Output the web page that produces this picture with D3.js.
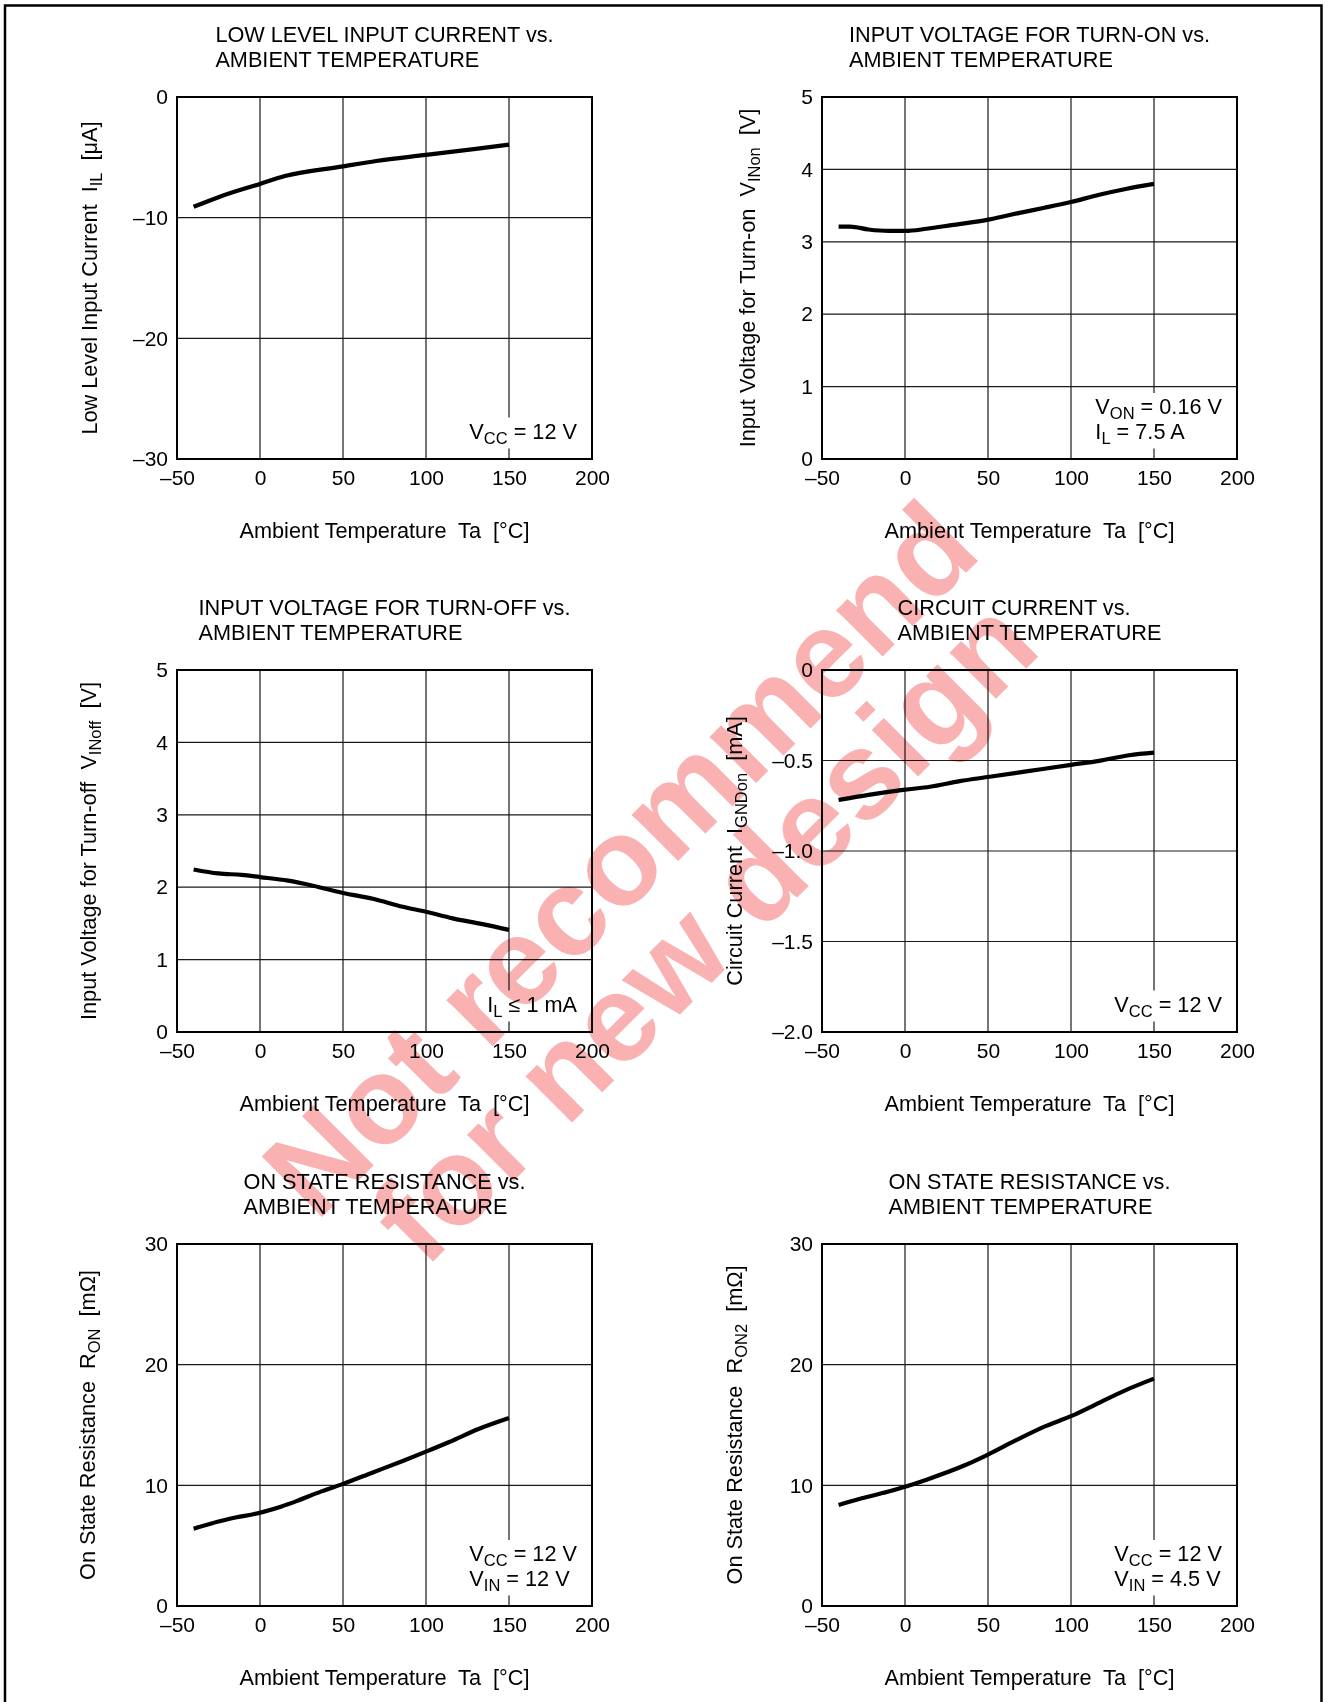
<!DOCTYPE html>
<html>
<head>
<meta charset="utf-8">
<script src="https://cdn.jsdelivr.net/npm/d3@7"></script>
<style>
  body { margin: 0; background: #fff; }
  svg text { font-family: "Liberation Sans", Arial, Helvetica, sans-serif; fill: #000; white-space: pre; }
</style>
</head>
<body>
<div id="chart"></div>
<script>
// shared temperature axis
const tempTicks = [-50, 0, 50, 100, 150, 200];
const tempTickLabels = ["–50", "0", "50", "100", "150", "200"];

// low level input current IIL [uA]
const ilTemp = [-40, -25, 0, 15, 50, 70, 100, 130, 150];
const ilValues = [-9.1, -8.3, -7.2, -6.55, -5.75, -5.3, -4.8, -4.3, -3.95];
const ilTicks = [0, -10, -20, -30];
const ilTickLabels = ["0", "–10", "–20", "–30"];

// input voltage for turn-on VINon [V]
const vonTemp = [-40, -33, -22, -10, 0, 13, 28, 51, 69, 84, 100, 117, 133, 150];
const vonValues = [3.21, 3.21, 3.17, 3.15, 3.15, 3.18, 3.23, 3.31, 3.40, 3.47, 3.55, 3.65, 3.73, 3.80];

// input voltage for turn-off VINoff [V]
const voffTemp = [-40, -25, -11, 0, 17, 32, 50, 68, 86, 100, 116, 134, 150];
const voffValues = [2.245, 2.19, 2.17, 2.14, 2.09, 2.02, 1.92, 1.84, 1.73, 1.66, 1.57, 1.49, 1.41];

const voltTicks = [0, 1, 2, 3, 4, 5];
const voltTickLabels = ["0", "1", "2", "3", "4", "5"];

// circuit current IGNDon [mA]
const gndTemp = [-40, -22, 0, 15, 33, 51, 74, 100, 117, 135, 150];
const gndValues = [-0.718, -0.69, -0.661, -0.645, -0.614, -0.59, -0.559, -0.524, -0.502, -0.471, -0.457];
const gndTicks = [0, -0.5, -1.0, -1.5, -2.0];
const gndTickLabels = ["0", "–0.5", "–1.0", "–1.5", "–2.0"];

// on state resistance RON [mOhm], VIN = 12 V
const ronTemp = [-40, -25, -14, -4, 2, 13, 22, 37, 50, 68, 86, 100, 114, 132, 150];
const ronValues = [6.41, 7.0, 7.36, 7.6, 7.8, 8.25, 8.69, 9.5, 10.12, 11.07, 12.02, 12.79, 13.59, 14.69, 15.58];

// on state resistance RON2 [mOhm], VIN = 4.5 V
const ron2Temp = [-40, -26, -11, 0, 13, 36, 50, 66, 84, 100, 115, 133, 150];
const ron2Values = [8.37, 8.93, 9.44, 9.88, 10.47, 11.66, 12.55, 13.68, 14.87, 15.73, 16.71, 17.89, 18.84];

const resTicks = [0, 10, 20, 30];
const resTickLabels = ["0", "10", "20", "30"];

// text pieces: [text, isSubscript]
const xLabel = [["Ambient Temperature  Ta  [°C]"]];
const noteVcc = [[["V"], ["CC", 1], [" = 12 V"]]];
const noteTurnOn = [[["V"], ["ON", 1], [" = 0.16 V"]], [["I"], ["L", 1], [" = 7.5 A"]]];
const noteTurnOff = [[["I"], ["L", 1], [" ≤ 1 mA"]]];
const noteRon = [[["V"], ["CC", 1], [" = 12 V"]], [["V"], ["IN", 1], [" = 12 V"]]];
const noteRon2 = [[["V"], ["CC", 1], [" = 12 V"]], [["V"], ["IN", 1], [" = 4.5 V"]]];

const watermarkLines = ["Not recommend", "for new design"];

const panels = [
  { col: 0, row: 0, title: ["LOW LEVEL INPUT CURRENT vs.", "AMBIENT TEMPERATURE"],
    yLabel: [["Low Level Input Current  I"], ["IL", 1], ["  [μA]"]],
    temps: ilTemp, values: ilValues, yDomain: [-30, 0], yTicks: ilTicks, yTickLabels: ilTickLabels,
    note: noteVcc, yTitleGap: 80 },
  { col: 1, row: 0, title: ["INPUT VOLTAGE FOR TURN-ON vs.", "AMBIENT TEMPERATURE"],
    yLabel: [["Input Voltage for Turn-on  V"], ["INon", 1], ["  [V]"]],
    temps: vonTemp, values: vonValues, yDomain: [0, 5], yTicks: voltTicks, yTickLabels: voltTickLabels,
    note: noteTurnOn, yTitleGap: 67 },
  { col: 0, row: 1, title: ["INPUT VOLTAGE FOR TURN-OFF vs.", "AMBIENT TEMPERATURE"],
    yLabel: [["Input Voltage for Turn-off  V"], ["INoff", 1], ["  [V]"]],
    temps: voffTemp, values: voffValues, yDomain: [0, 5], yTicks: voltTicks, yTickLabels: voltTickLabels,
    note: noteTurnOff, yTitleGap: 81 },
  { col: 1, row: 1, title: ["CIRCUIT CURRENT vs.", "AMBIENT TEMPERATURE"],
    yLabel: [["Circuit Current  I"], ["GNDon", 1], ["  [mA]"]],
    temps: gndTemp, values: gndValues, yDomain: [-2, 0], yTicks: gndTicks, yTickLabels: gndTickLabels,
    note: noteVcc, yTitleGap: 80 },
  { col: 0, row: 2, title: ["ON STATE RESISTANCE vs.", "AMBIENT TEMPERATURE"],
    yLabel: [["On State Resistance  R"], ["ON", 1], ["  [mΩ]"]],
    temps: ronTemp, values: ronValues, yDomain: [0, 30], yTicks: resTicks, yTickLabels: resTickLabels,
    note: noteRon, yTitleGap: 82 },
  { col: 1, row: 2, title: ["ON STATE RESISTANCE vs.", "AMBIENT TEMPERATURE"],
    yLabel: [["On State Resistance  R"], ["ON2", 1], ["  [mΩ]"]],
    temps: ron2Temp, values: ron2Values, yDomain: [0, 30], yTicks: resTicks, yTickLabels: resTickLabels,
    note: noteRon2, yTitleGap: 80 },
];

const width = 1328, height = 1702;
const colLeft = [177, 822];
const rowTop = [97, 670, 1244];
const plotW = 415, plotH = 362;
const tickSize = 21, fontSize = 21.7, subSize = 16.5, subShift = 5;

const svg = d3.select("#chart").append("svg")
    .attr("width", width)
    .attr("height", height);

svg.append("rect").attr("width", width).attr("height", height).attr("fill", "#fff");

// page frame (open at the bottom)
svg.append("path")
    .attr("d", `M5,${height} V5.5 H1321.5 V${height}`)
    .attr("fill", "none")
    .attr("stroke", "#000")
    .attr("stroke-width", 2.5);

// writes [text, sub] pieces as tspans into a text element
function addPieces(text, pieces) {
  let shifted = false;
  pieces.forEach(([t, sub]) => {
    const ts = text.append("tspan").text(t);
    if (sub && !shifted) { ts.attr("dy", subShift).attr("font-size", subSize); shifted = true; }
    else if (!sub && shifted) { ts.attr("dy", -subShift); shifted = false; }
    else if (sub) ts.attr("font-size", subSize);
  });
}

function drawPanel(p) {
  const left = colLeft[p.col], top = rowTop[p.row];
  const g = svg.append("g").attr("transform", `translate(${left},${top})`);

  const x = d3.scaleLinear().domain([-50, 200]).range([0, plotW]);
  const y = d3.scaleLinear().domain(p.yDomain).range([plotH, 0]);

  // grid
  g.append("g")
      .selectAll("line")
      .data(tempTicks.slice(1, -1))
      .join("line")
        .attr("x1", d => x(d)).attr("x2", d => x(d))
        .attr("y1", 0).attr("y2", plotH)
        .attr("stroke", "#1a1a1a").attr("stroke-width", 1.2);
  g.append("g")
      .selectAll("line")
      .data(p.yTicks.filter(d => d !== p.yDomain[0] && d !== p.yDomain[1]))
      .join("line")
        .attr("x1", 0).attr("x2", plotW)
        .attr("y1", d => y(d)).attr("y2", d => y(d))
        .attr("stroke", "#1a1a1a").attr("stroke-width", 1.2);

  // axes (labels only, the frame is drawn as a rect)
  const xAxis = g.append("g")
      .attr("transform", `translate(0,${plotH})`)
      .call(d3.axisBottom(x).tickValues(tempTicks).tickSize(0).tickPadding(11)
        .tickFormat((d, i) => tempTickLabels[i]));
  const yAxis = g.append("g")
      .call(d3.axisLeft(y).tickValues(p.yTicks).tickSize(0).tickPadding(9)
        .tickFormat((d, i) => p.yTickLabels[i]));
  [xAxis, yAxis].forEach(a => {
    a.select(".domain").remove();
    a.selectAll("text").attr("font-size", tickSize).attr("font-family", null).attr("fill", "#000");
    a.attr("font-family", null).attr("font-size", null);
  });

  // condition note, with white box that breaks the grid
  const noteG = g.append("g");
  const noteBox = noteG.append("rect").attr("fill", "#fff");
  const nLines = p.note.length;
  const texts = p.note.map((line, i) => {
    const t = noteG.append("text")
        .attr("font-size", fontSize)
        .attr("y", plotH - 20.5 - (nLines - 1 - i) * 24.5);
    addPieces(t, line);
    return t;
  });
  const noteW = d3.max(texts, t => t.node().getComputedTextLength());
  const noteX = plotW - 15 - noteW;
  texts.forEach(t => t.attr("x", noteX));
  const bb = noteG.node().getBBox();
  noteBox.attr("x", noteX - 3).attr("width", noteW + 6)
      .attr("y", bb.y - 1).attr("height", bb.height + 3);

  // curve
  const line = d3.line()
      .x((d, i) => x(p.temps[i]))
      .y(d => y(d))
      .curve(d3.curveMonotoneX);
  g.append("path")
      .datum(p.values)
      .attr("d", line)
      .attr("fill", "none")
      .attr("stroke", "#000")
      .attr("stroke-width", 4.2);

  // frame
  g.append("rect")
      .attr("width", plotW).attr("height", plotH)
      .attr("fill", "none").attr("stroke", "#000").attr("stroke-width", 2);

  // title: block centred over plot, lines left aligned
  const titles = p.title.map((s, i) => g.append("text")
      .attr("font-size", fontSize)
      .attr("y", -55 + i * 25)
      .text(s));
  const titleW = d3.max(titles, t => t.node().getComputedTextLength());
  titles.forEach(t => t.attr("x", plotW / 2 - titleW / 2));

  // x title
  const xt = g.append("text")
      .attr("font-size", fontSize)
      .attr("text-anchor", "middle")
      .attr("x", plotW / 2)
      .attr("y", plotH + 79);
  addPieces(xt, xLabel[0].map(s => [s]));

  // y title
  const yt = g.append("text")
      .attr("font-size", fontSize)
      .attr("text-anchor", "middle")
      .attr("transform", `translate(${-p.yTitleGap},${plotH / 2}) rotate(-90)`);
  addPieces(yt, p.yLabel);
}

panels.forEach(drawPanel);

// watermark, multiplied so black ink stays black
const wm = svg.append("g")
    .attr("transform", "translate(650,889) rotate(-45)")
    .style("mix-blend-mode", "multiply");
wm.selectAll("text")
    .data(watermarkLines)
    .join("text")
      .attr("text-anchor", "middle")
      .attr("x", (d, i) => i * 9)
      .attr("y", (d, i) => i * 110)
      .attr("font-size", 124)
      .attr("font-weight", "bold")
      .style("fill", "#f9b1b1")
      .text(d => d);
</script>
</body>
</html>
